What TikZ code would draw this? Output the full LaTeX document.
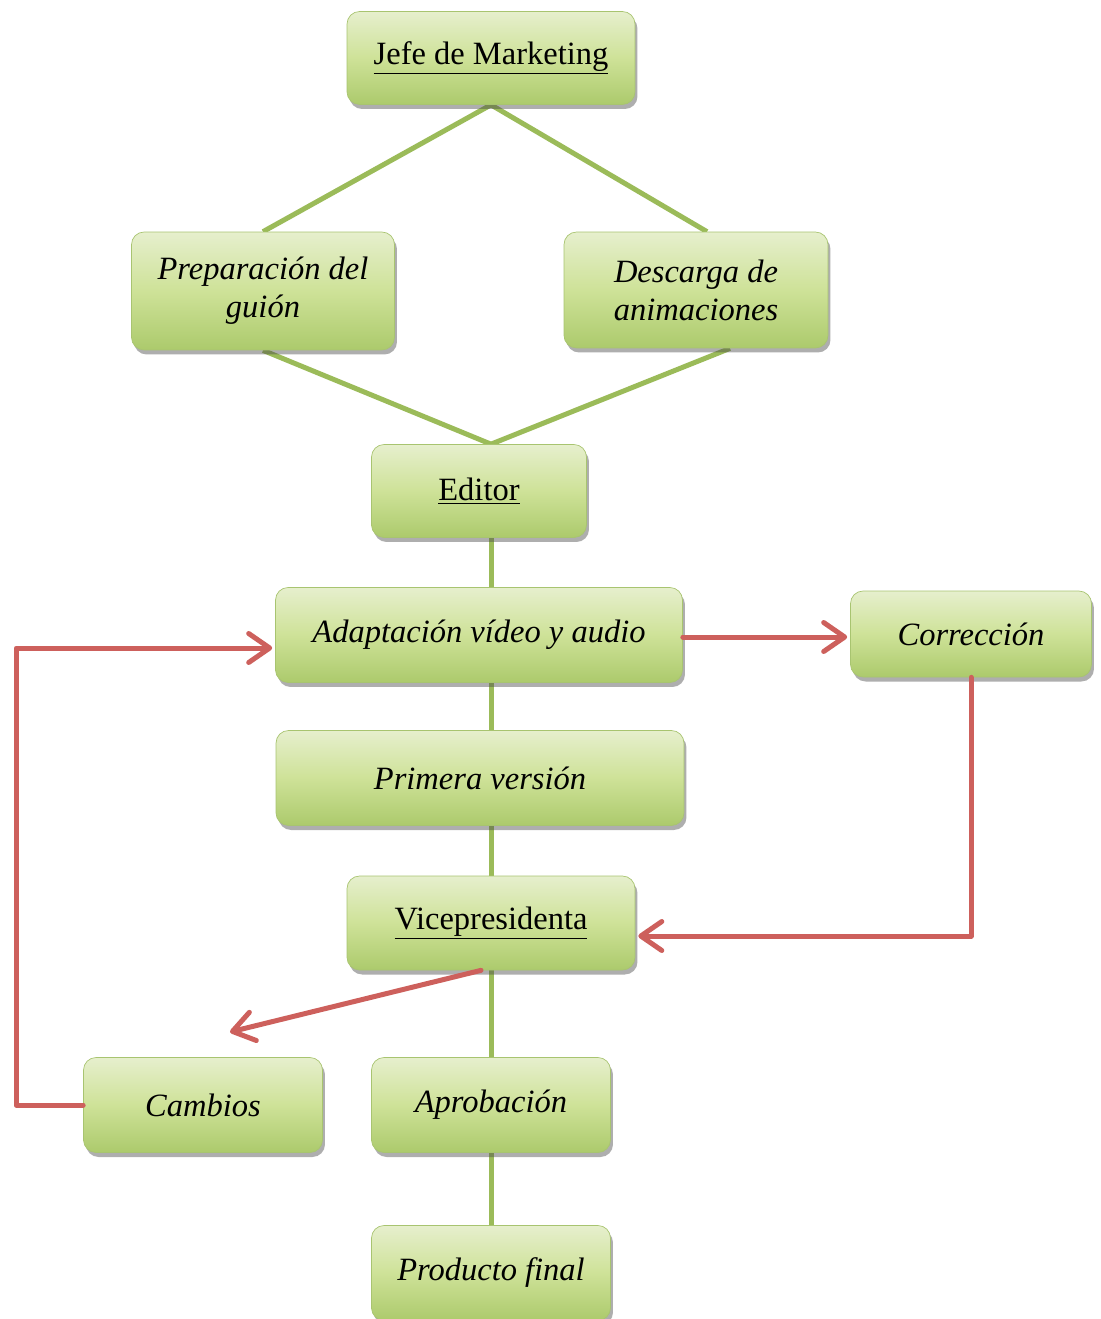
\documentclass[tikz,border=0pt]{standalone}
\usepackage{fontspec}
\setmainfont{Liberation Serif}
\usetikzlibrary{arrows.meta,backgrounds,calc,shadows}
\definecolor{boxtop}{RGB}{230,239,205}
\definecolor{boxmid}{RGB}{206,226,152}
\definecolor{boxbot}{RGB}{172,202,108}
\definecolor{boxline}{RGB}{168,196,112}
\definecolor{linegreen}{RGB}{155,187,89}
\definecolor{linered}{RGB}{205,96,92}
\tikzset{
	procbox/.style={rectangle, rounded corners=0.25cm, draw=boxline, line width=0.4pt,
		top color=boxtop, bottom color=boxbot, middle color=boxmid,
		drop shadow={shadow xshift=0.05cm, shadow yshift=-0.09cm, opacity=0.45, fill=black!70},
		inner sep=0pt, align=center, font=\fontsize{18.5}{21.6}\selectfont\itshape},
	headbox/.style={procbox, font=\fontsize{18.5}{21.6}\selectfont\upshape},
	greenline/.style={draw=linegreen, line width=0.1cm},
	redarrow/.style={draw=linered, line width=0.1cm, line cap=round, line join=round,
		-{Straight Barb[length=0.42cm, width=0.58cm, line cap=round, line join=round]}}
}

\begin{document}
\begin{tikzpicture}[x=0.02cm, y=-0.02cm]
		%%%%% START %%%%%
		
		\useasboundingbox (0, 0) rectangle (1100, 1319);
		
		\node[headbox, minimum width=5.76cm, minimum height=1.86cm] (jefe) at (491, 58) {\underline{Jefe de Marketing}};
		\node[procbox, minimum width=5.26cm, minimum height=2.36cm] (prep) at (263, 291) {Preparación del\\guión};
		\node[procbox, minimum width=5.28cm, minimum height=2.32cm] (desc) at (696, 290) {Descarga de\\animaciones};
		\node[headbox, minimum width=4.3cm, minimum height=1.86cm] (editor) at (479, 491) {\underline{Editor}};
		
		\node[procbox, minimum width=8.14cm, minimum height=1.9cm] (adapt) at (479, 635) {Adaptación vídeo y audio};
		\node[procbox, minimum width=4.82cm, minimum height=1.72cm] (corr) at (971, 634) {Corrección};
		\node[procbox, minimum width=8.16cm, minimum height=1.9cm] (prim) at (480, 778) {Primera versión};
		\node[headbox, minimum width=5.76cm, minimum height=1.88cm] (vice) at (491, 923) {\underline{Vicepresidenta}};
		
		\node[procbox, minimum width=4.78cm, minimum height=1.9cm] (cambios) at (203, 1105) {Cambios};
		\node[procbox, minimum width=4.78cm, minimum height=1.9cm] (aprob) at (491, 1105) {Aprobación};
		\node[procbox, minimum width=4.78cm, minimum height=1.9cm] (prod) at (491, 1273) {Producto final};
		
		\coordinate (cambtip) at (230, 1032);
		
		% green links behind the boxes
		\begin{scope}[on background layer]
		\draw[greenline] (jefe.south) -- (prep.north);
		\draw[greenline] (jefe.south) -- ($(desc.north)+(11, 0)$);
		\draw[greenline] (prep.south) -- (editor.north -| jefe.south);
		\draw[greenline] ($(desc.south)+(34, 0)$) -- (editor.north -| jefe.south);
		\draw[greenline] (editor.south -| jefe.south) -- (adapt.north -| jefe.south);
		\draw[greenline] (adapt.south -| jefe.south) -- (prim.north -| jefe.south);
		\draw[greenline] (prim.south -| jefe.south) -- (vice.north);
		\draw[greenline] (vice.south) -- (aprob.north);
		\draw[greenline] (aprob.south) -- (prod.north);
		\end{scope}
		
		% red loop arrows
		\draw[redarrow] ($(adapt.east)+(0, 2)$) -- ($(adapt.east -| corr.west)+(-3, 2)$);
		\draw[redarrow] (corr.south) |- ([xshift=0.06cm, yshift=-0.26cm]vice.east);
		\draw[redarrow] ([xshift=-0.2cm]vice.south) -- (cambtip);
		\draw[redarrow] (cambios.west) -- ++(-67, 0) |- ([xshift=-0.06cm, yshift=-0.26cm]adapt.west);
		
		%%%%% END %%%%%
	\end{tikzpicture}
\end{document}
